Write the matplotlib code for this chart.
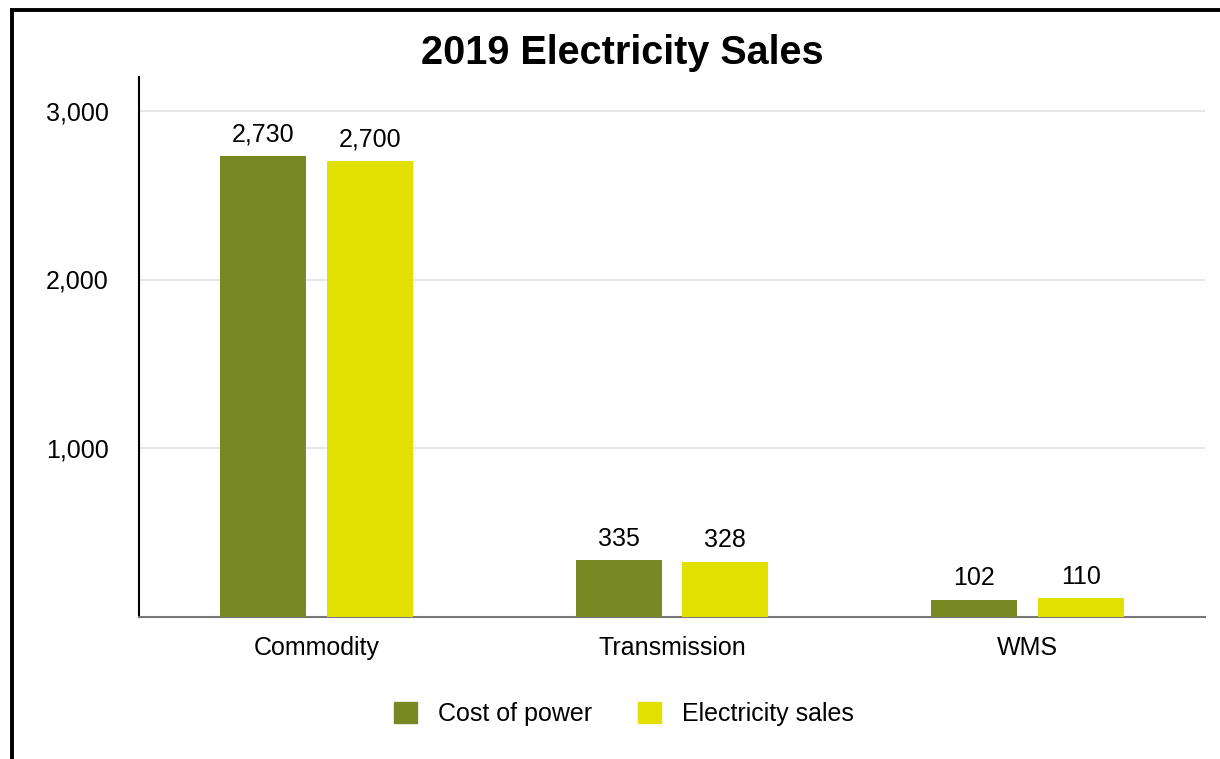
import matplotlib.pyplot as plt
import matplotlib.patches as mpatches
from matplotlib.lines import Line2D
import numpy as np

plt.rcParams['font.family'] = ['Liberation Sans', 'DejaVu Sans']

categories = ["Commodity", "Transmission", "WMS"]
cost_of_power = [2730, 335, 102]
electricity_sales = [2700, 328, 110]
series_names = ["Cost of power", "Electricity sales"]
y_ticks = [1000, 2000, 3000]

GREEN = '#788822'
YELLOW = '#e2e000'
FS = 18

fig = plt.figure(figsize=(12.2, 7.59), dpi=100)
ax = fig.add_axes([139 / 1220, 1 - 617 / 759, 1066 / 1220, 540 / 759])

x = np.arange(len(categories))
w = 0.242
off = 0.15
b1 = ax.bar(x - off, cost_of_power, w, color=GREEN, zorder=3)
b2 = ax.bar(x + off, electricity_sales, w, color=YELLOW, zorder=3)

# valeurs au-dessus des barres
for bars, vals in ((b1, cost_of_power), (b2, electricity_sales)):
    for r, v in zip(bars, vals):
        ax.annotate(f"{v:,}", (r.get_x() + r.get_width() / 2, v),
                    xytext=(0, 7), textcoords='offset points',
                    ha='center', va='bottom', fontsize=FS)

ax.set_xlim(-0.5, 2.5)
ax.set_ylim(0, 3200)
ax.set_yticks(y_ticks)
ax.set_yticklabels([f"{t:,}" for t in y_ticks], fontsize=FS)
ax.set_xticks(x)
ax.set_xticklabels(categories, fontsize=FS)
ax.tick_params(length=0)
ax.tick_params(axis='y', pad=22)
ax.tick_params(axis='x', pad=14)
ax.yaxis.grid(True, color='#e3e3e3', linewidth=1.2, zorder=0)

for s in ('top', 'right'):
    ax.spines[s].set_visible(False)
ax.spines['left'].set_color('black')
ax.spines['left'].set_linewidth(1.5)
ax.spines['bottom'].set_color('#777777')
ax.spines['bottom'].set_linewidth(1.5)

fig.text(622 / 1220, 1 - 53 / 759, "2019 Electricity Sales", ha='center',
         va='center', fontsize=28.5, fontweight='bold')

handles = [mpatches.Patch(color=GREEN, label=series_names[0]),
           mpatches.Patch(color=YELLOW, label=series_names[1])]
fig.legend(handles=handles, loc='center', bbox_to_anchor=(624 / 1220, 1 - 714 / 759),
           ncol=2, frameon=False, fontsize=FS, handlelength=0.92, handleheight=0.92,
           columnspacing=1.84, handletextpad=0.84)

# cadre noir (haut et gauche)
fig.add_artist(Line2D([11.5 / 1220, 1], [1 - 9.5 / 759] * 2, color='black', linewidth=2.8))
fig.add_artist(Line2D([11.5 / 1220] * 2, [0, 1 - 9.5 / 759], color='black', linewidth=2.8))

fig.savefig('out.png', dpi=100)
